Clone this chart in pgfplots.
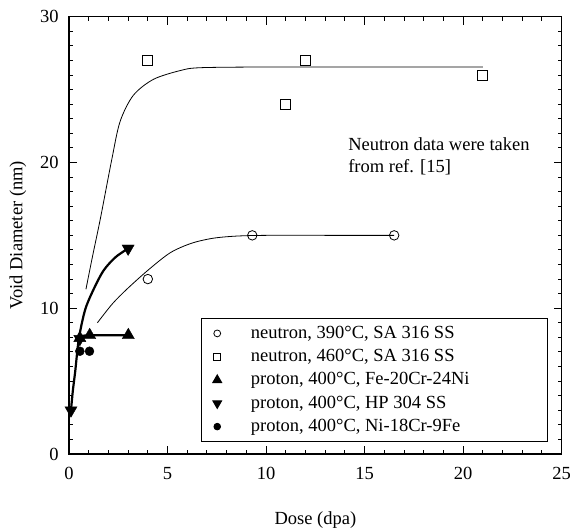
\documentclass[border=0pt]{standalone}
\usepackage{fontspec}
\setmainfont{Liberation Serif}
\usepackage{pgfplots}
\pgfplotsset{compat=1.18}
\newcommand{\fs}{\fontsize{18.5bp}{22.3bp}\selectfont}
\pgfplotsset{lgimg/.style={legend image code/.code={\path[draw=none] (-15.7bp,-11.65bp) rectangle (33.6bp,11.65bp); \draw[##1, every mark/.append style={scale=0.72}] plot coordinates {(0bp,0bp)};}}}
\newcommand{\lgent}[1]{\makebox[297bp][l]{#1}}
\begin{document}
\fs
\begin{tikzpicture}
\useasboundingbox (-69bp,-74bp) rectangle (501bp,454bp);
\begin{axis}[
  at={(0,0)}, anchor=south west,
  scale only axis, width=492.7bp, height=437.3bp,
  xmin=0, xmax=25, ymin=0, ymax=30,
  xtick={0,5,...,25}, ytick={0,10,20,30},
  minor xtick={0,1,...,25}, minor ytick={0,1,...,30},
  tick pos=both,
  tick align=inside,
  major tick length=8bp, minor tick length=4bp,
  every tick/.style={black, line width=1bp},
  axis line style={line width=1.2bp},
  /pgf/number format/assume math mode=true,
  tick label style={font=\fs},
  xticklabel style={yshift=-7bp},
  yticklabel style={xshift=-4bp},
  xlabel={Dose (dpa)}, ylabel={Void Diameter (nm)},
  label style={font=\fs},
  xlabel style={at={(axis description cs:0.5,0)}, anchor=base, yshift=-70bp},
  ylabel style={at={(axis description cs:0,0.5)}, anchor=center, yshift=51bp},
  legend cell align=left,
  legend style={at={(axis cs:6.7,9.33)}, anchor=north west, draw=black, line width=1bp,
    inner xsep=0pt, inner ysep=3.25bp, row sep=0pt,
    nodes={inner sep=0pt, font=\fs, draw=none}},
]
% curves
\addplot[forget plot, black, line width=0.8bp, smooth, tension=0.5] coordinates {
 (0.86,11.3) (1.2,13.6) (1.6,16.2) (2.17,20.2) (2.59,22.8) (3.26,24.6) (4.28,25.7) (5.63,26.3) (6.65,26.5) (10,26.55) (15,26.55) (21.0,26.55)};
\addplot[forget plot, black, line width=0.8bp, smooth, tension=0.5] coordinates {
 (1.44,9.0) (2.2,10.3) (2.93,11.3) (4.0,12.6) (5.13,13.8) (6.2,14.45) (7.3,14.8) (8.5,14.95) (10,15.0) (13,15.0) (16.5,15.0)};
\addplot[forget plot, black, line width=2.2bp, smooth, tension=0.5] coordinates {
 (0.1,3.0) (0.2,4.4) (0.31,5.6) (0.5,7.9) (0.82,9.9) (1.25,11.3) (1.76,12.6) (2.36,13.5) (3.0,14.1)};
\addplot[forget plot, black, line width=2.2bp] coordinates {(0.55,8.1) (1.05,8.15) (3.0,8.15)};
% markers
\addplot[only marks, mark=o, mark size=4.75bp, black, line width=0.8bp, lgimg] coordinates {(4,12) (9.3,15) (16.5,15)};
\addlegendentry{\lgent{neutron, 390°C, SA 316 SS}}
\addplot[only marks, mark=square, mark size=5bp, black, line width=0.8bp, lgimg] coordinates {(4,27) (11,24) (12,27) (21,26)};
\addlegendentry{\lgent{neutron, 460°C, SA 316 SS}}
\addplot[only marks, mark=triangle*, mark size=7bp, black, lgimg] coordinates {(0.55,7.95) (1.05,8.15) (3.01,8.15)};
\addlegendentry{\lgent{proton, 400°C, Fe-20Cr-24Ni}}
\addplot[only marks, mark=triangle*, mark size=7bp, mark options={rotate=180}, black, lgimg] coordinates {(0.1,3.0) (0.55,7.9) (3.0,14.1)};
\addlegendentry{\lgent{proton, 400°C, HP 304 SS}}
\addplot[only marks, mark=*, mark size=4.5bp, black, lgimg] coordinates {(0.55,7.05) (1.04,7.05)};
\addlegendentry{\lgent{proton, 400°C, Ni-18Cr-9Fe}}
\node[anchor=base west, align=left, inner sep=0pt, font=\fs] at (axis cs:14.16,19.3) {Neutron data were taken\\from ref. [15]};
\end{axis}
\end{tikzpicture}
\end{document}
